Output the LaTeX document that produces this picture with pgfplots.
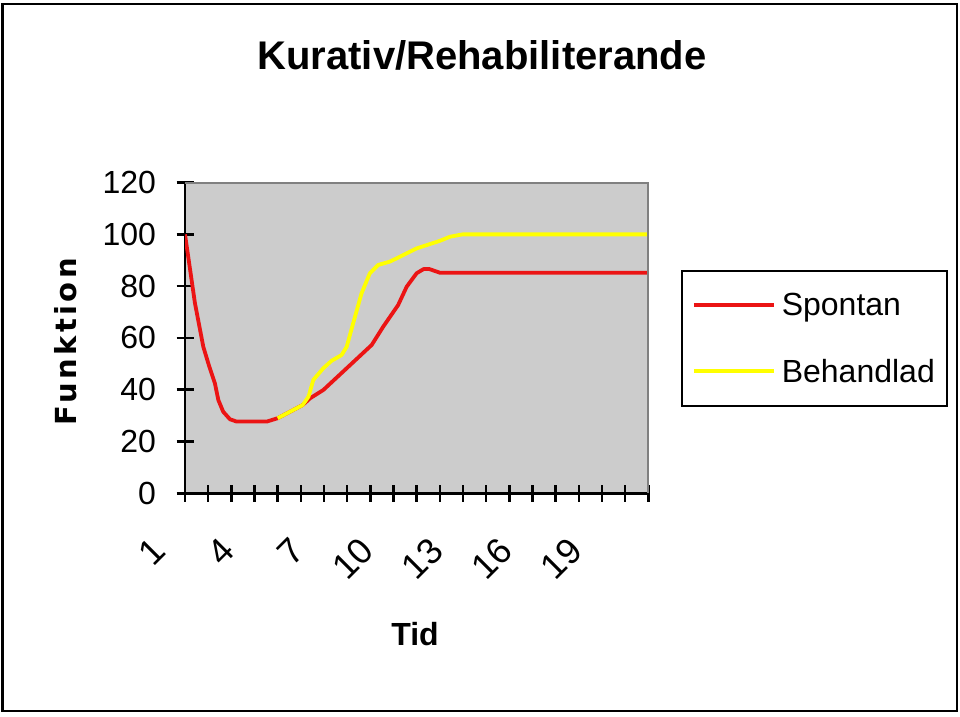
\documentclass[border=0pt]{standalone}
\usepackage{fontspec}
\setmainfont{Liberation Sans}
\newfontfamily\funkfont[LetterSpace=12]{DejaVu Sans}
\usepackage{pgfplots}
\pgfplotsset{compat=1.18}
\definecolor{plotbg}{RGB}{204,204,204}
\definecolor{sred}{RGB}{235,20,20}
\definecolor{byel}{RGB}{255,255,0}
\definecolor{bordergray}{RGB}{128,128,128}
\begin{document}
\begin{tikzpicture}
\path[use as bounding box] (0,0) rectangle (960pt,716pt);
\draw[line width=2.5pt] (2.5pt,712pt) rectangle (957pt,5pt);
\begin{axis}[
  at={(185pt,222.7pt)}, anchor=south west,
  width=463.3pt, height=310.7pt, scale only axis,
  xmin=1, xmax=21, ymin=0, ymax=120,
  axis background/.style={fill=plotbg},
  axis lines*=left,
  axis line style={line width=2.5pt, black},
  xtick={1,...,21},
  xticklabels={1,,,4,,,7,,,10,,,13,,,16,,,19,,},
  ytick={0,20,...,120},
  tick style={line width=2.5pt, black},
  major tick length=17pt,
  tick align=center,
  ticklabel style={font=\fontsize{32}{39}\selectfont},
  /pgf/number format/assume math mode=true,
  yticklabel style={xshift=-17pt},
  xticklabel style={xshift=-24pt, yshift=-40pt, rotate=45, anchor=east, font=\fontsize{36}{42}\selectfont},
  extra description/.code={\draw[line width=2pt, bordergray] (axis description cs:0,1) -- (axis description cs:1,1) -- (axis description cs:1,0);},
  title={Kurativ/Rehabiliterande},
  title style={at={(axis description cs:0.641,1.3463)}, anchor=base, font=\bfseries\fontsize{40}{48}\selectfont},
  xlabel={Tid},
  xlabel style={at={(axis description cs:0.4964,-0.4883)}, anchor=base, font=\bfseries\fontsize{32}{38}\selectfont},
  ylabel={\funkfont\bfseries Funktion},
  ylabel style={at={(axis description cs:-0.2338,0.487)}, anchor=base, font=\fontsize{29}{34}\selectfont},
  legend style={at={(axis description cs:1.0706,0.7187)}, anchor=north west, draw=black, line width=2pt, fill=white, font=\fontsize{32}{38}\selectfont, row sep=38pt, column sep=4pt, inner xsep=10pt, inner ysep=20pt, cells={anchor=west}},
  legend image code/.code={\draw[#1] (0pt,0pt) -- (80pt,0pt);},
]
\addplot[sred, line width=3.8pt, line join=round] coordinates {
(1,100) (1.43,73.4) (1.79,56.6) (2.05,48.9) (2.29,42.5) (2.44,36.0) (2.65,31.5) (2.94,28.6) (3.23,27.7) (4.53,27.7) (5.0,29.0) (6.08,34.1) (6.4,36.7) (6.97,39.9) (7.98,48.3) (9.06,57.3) (9.56,64.4) (10.2,72.7) (10.57,79.8) (11.0,85.0) (11.3,86.6) (11.55,86.6) (12.0,85.2) (21,85.2)
};
\addlegendentry{Spontan}
\addplot[byel, line width=3.8pt, line join=round] coordinates {
(5,29.0) (6.08,34.1) (6.33,37.3) (6.54,43.8) (6.97,48.3) (7.33,51.2) (7.76,53.4) (7.98,56.6) (8.26,65.7) (8.62,77.2) (8.98,85.0) (9.34,88.2) (9.85,89.5) (10.42,92.0) (11.0,94.6) (12.0,97.5) (12.44,99.1) (12.98,100) (21,100)
};
\addlegendentry{Behandlad}
\end{axis}
\end{tikzpicture}
\end{document}
